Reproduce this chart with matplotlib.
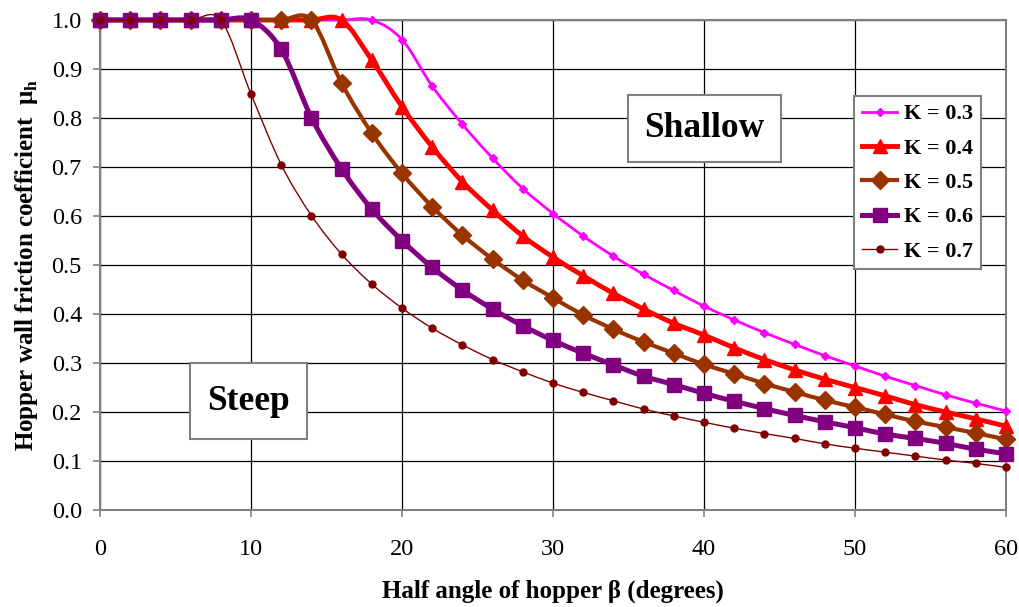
import matplotlib
matplotlib.use("Agg")
import matplotlib.pyplot as plt
from matplotlib.path import Path
from matplotlib.patches import PathPatch, Rectangle
from matplotlib.lines import Line2D
import numpy as np

plt.rcParams['font.family'] = ['Liberation Serif', 'DejaVu Serif']
plt.rcParams['mathtext.fontset'] = 'custom'
plt.rcParams['mathtext.rm'] = 'Liberation Serif'
plt.rcParams['mathtext.bf'] = 'Liberation Serif:bold'

# ---------------- data ----------------
beta = list(range(0, 61, 2))

k03 = [1.0]*10 + [0.96, 0.865, 0.787, 0.718, 0.656, 0.605, 0.559, 0.518, 0.481, 0.448,
                  0.416, 0.388, 0.362, 0.338, 0.315, 0.294, 0.273, 0.254, 0.235, 0.218, 0.202]
k04 = [1.0]*9 + [0.918, 0.823, 0.741, 0.670, 0.612, 0.559, 0.516, 0.478, 0.442, 0.410, 0.381,
                 0.357, 0.331, 0.307, 0.286, 0.267, 0.250, 0.233, 0.215, 0.200, 0.186, 0.171]
k05 = [1.0]*8 + [0.871, 0.769, 0.687, 0.619, 0.561, 0.512, 0.469, 0.433, 0.398, 0.369, 0.343,
                 0.320, 0.297, 0.278, 0.258, 0.241, 0.224, 0.210, 0.195, 0.181, 0.169, 0.157, 0.144]
k06 = [1.0]*6 + [0.940, 0.801, 0.696, 0.614, 0.550, 0.495, 0.449, 0.410, 0.376, 0.346, 0.320,
                 0.296, 0.273, 0.256, 0.238, 0.222, 0.207, 0.193, 0.180, 0.168, 0.155, 0.146,
                 0.136, 0.124, 0.115]
k07 = [1.0]*5 + [0.849, 0.705, 0.601, 0.522, 0.461, 0.412, 0.371, 0.337, 0.307, 0.282, 0.259,
                 0.240, 0.223, 0.206, 0.192, 0.179, 0.167, 0.156, 0.146, 0.135, 0.126, 0.118,
                 0.110, 0.102, 0.095, 0.087]

labels = ['K = 0.3', 'K = 0.4', 'K = 0.5', 'K = 0.6', 'K = 0.7']
series = [k03, k04, k05, k06, k07]
colors = ['#FF00FF', '#FF0000', '#993300', '#800080', '#800000']
markers = ['D', '^', 'D', 's', 'o']
msizes = [4, 10, 9, 10, 5]
lwidths = [2.0, 3.5, 3.0, 3.6, 1.0]

xticks = [0, 10, 20, 30, 40, 50, 60]
yticks = [0.0, 0.1, 0.2, 0.3, 0.4, 0.5, 0.6, 0.7, 0.8, 0.9, 1.0]


def smooth_path(x, y):
    """Excel-style smoothed line: cubic Bezier segments (Catmull-Rom control points)."""
    P = np.column_stack([x, y]).astype(float)
    n = len(P)
    verts = [P[0]]
    codes = [Path.MOVETO]
    for i in range(n - 1):
        p0 = P[i - 1] if i > 0 else P[i]
        p1 = P[i]
        p2 = P[i + 1]
        p3 = P[i + 2] if i + 2 < n else P[i + 1]
        c1 = p1 + (p2 - p0) / 6.0
        c2 = p2 - (p3 - p1) / 6.0
        verts += [c1, c2, p2]
        codes += [Path.CURVE4] * 3
    return Path(verts, codes)


fig = plt.figure(figsize=(10.2, 6.07), dpi=100)
ax = fig.add_axes([100/1020, 1 - 510/607, 906/1020, 490/607])

ax.set_xlim(0, 60)
ax.set_ylim(0, 1.0)
ax.set_xticks(xticks)
ax.set_yticks(yticks)
ax.set_yticklabels([f'{v:.1f}' for v in yticks])
ax.grid(True, color='black', lw=0.9, zorder=0)
ax.set_axisbelow(True)
for s in ax.spines.values():
    s.set_color('#808080')
    s.set_linewidth(1.5)
ax.tick_params(axis='both', direction='out', length=5, width=1.2, color='#808080',
               labelsize=17.5)
ax.tick_params(axis='y', pad=8)
ax.tick_params(axis='x', pad=16)

handles = []
for i, (yv, lab) in enumerate(zip(series, labels)):
    pp = PathPatch(smooth_path(beta, yv), fill=False, edgecolor=colors[i],
                   lw=lwidths[i], transform=ax.transData, zorder=4 + i,
                   clip_on=False, capstyle='round', joinstyle='round')
    ax.add_patch(pp)
    ax.plot(beta, yv, ls='none', marker=markers[i], ms=msizes[i], color=colors[i],
            mec=colors[i], zorder=4.5 + i, clip_on=False)
    handles.append(Line2D([], [], color=colors[i], lw=lwidths[i], marker=markers[i],
                          ms=msizes[i], mec=colors[i]))

ax.set_xlabel('Half angle of hopper β (degrees)', fontsize=18, fontweight='bold')
ax.xaxis.set_label_coords(0.5, -0.141)
ax.set_ylabel(r'Hopper wall friction coefficient  μ$_{\mathbf{h}}$', fontsize=18,
              fontweight='bold')
ax.yaxis.set_label_coords(-0.066, 0.5)

leg = fig.legend(handles, labels, loc='upper left', bbox_to_anchor=(854/1020, 1 - 96/607),
                 borderaxespad=0, fancybox=False, framealpha=1, edgecolor='#808080',
                 prop={'weight': 'bold', 'size': 16}, handlelength=1.6,
                 labelspacing=0.62, borderpad=0.35, handletextpad=0.3)
leg.get_frame().set_linewidth(1.5)

# annotation boxes
for (x0, y0, w, h, txt) in [(628, 162, 153, 67, 'Shallow'), (190, 439, 117, 76, 'Steep')]:
    fig.patches.append(Rectangle((x0/1020, 1 - y0/607), w/1020, h/607, transform=fig.transFigure,
                                 facecolor='white', edgecolor='#808080', lw=1.5, zorder=3))
    fig.text((x0 + w/2)/1020, 1 - (y0 - h/2)/607, txt, ha='center', va='center',
             fontsize=25.5, fontweight='bold', zorder=4)

fig.savefig('out.png', dpi=100)
